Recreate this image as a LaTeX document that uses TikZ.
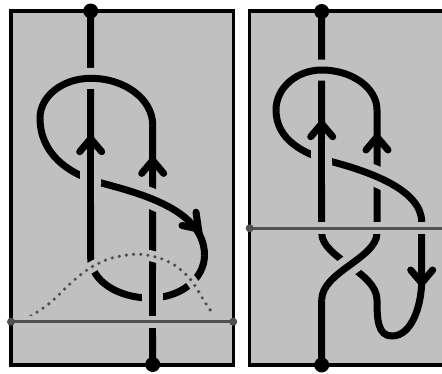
\documentclass[tikz,border=0pt]{standalone}
\usepackage{tikz}
\definecolor{boxfill}{HTML}{C0C0C0}
\definecolor{grayline}{HTML}{505050}
\tikzset{
  strand/.style={draw=black, line width=7pt, line cap=butt, line join=round},
  over/.style={strand, preaction={draw=boxfill, line width=21pt}},
  arrowhead/.style={draw=black, line width=7pt, line cap=round, line join=miter},
  panel/.style={fill=boxfill, draw=black, line width=3.3pt},
  hline/.style={draw=grayline, line width=3.3pt},
  hhalo/.style={draw=boxfill, line width=12pt},
  dotcurve/.style={draw=grayline, line width=3.6pt, line cap=round, dash pattern=on 0pt off 7.2pt},
  dothalo/.style={draw=boxfill, line width=11pt},
  enddot/.style={fill=black},
  graydot/.style={fill=grayline}
}
\begin{document}
\begin{tikzpicture}[x=1pt,y=-1pt]
\useasboundingbox (0,0) rectangle (442,373);
\clip (0,0) rectangle (442,373);
% panels
\path[panel] (11,11) rectangle (233.2,365);
\path[panel] (249.7,11) rectangle (480,365);

% ---------------- left panel ----------------
\path[strand] (152.7,364) -- (152.7,125)
  .. controls (152.7,99.2) and (124.9,78.3) .. (90.7,78.3)
  .. controls (62.7,78.3) and (40,96.1) .. (40,118)
  .. controls (40,153) and (67.2,173.9) .. (101.5,183)
  .. controls (140,193.4) and (204.5,210) .. (204.5,255)
  .. controls (204.5,279) and (180.4,298) .. (150,298)
  .. controls (117.2,298) and (90.7,280) .. (90.7,258)
  -- (90.7,11);
\path[over] (152.7,125)
  .. controls (152.7,99.2) and (124.9,78.3) .. (90.7,78.3)
  .. controls (62.7,78.3) and (40,96.1) .. (40,118);
\path[over] (90.7,150) -- (90.7,205);
\path[over] (101.5,183) .. controls (140,193.4) and (204.5,210) .. (204.5,255);
\path[over] (152.7,270) -- (152.7,335);
% dotted curve
\path[dothalo] plot[smooth] coordinates {(31,316) (50,303) (72,282) (90,268) (110,258.5) (133,254.3) (148,255.3) (163,259.3) (176,266) (188,276.5) (196,287.3) (204,300.7) (213,314)};
\path[dotcurve] plot[smooth] coordinates {(31,316) (50,303) (72,282) (90,268) (110,258.5) (133,254.3) (148,255.3) (163,259.3) (176,266) (188,276.5) (196,287.3) (204,300.7) (213,314)};
% horizontal line
\path[hhalo] (20,321.7) -- (225,321.7);
\path[hline] (11,321.7) -- (233.2,321.7);
\path[graydot] (11,321.7) circle[radius=4pt];
\path[graydot] (233.2,321.7) circle[radius=4pt];
% arrows
\path[arrowhead] (79.7,151.7) -- (90.7,138.7) -- (101.7,151.7);
\path[arrowhead] (141.7,173.4) -- (152.7,160.4) -- (163.7,173.4);
\path[arrowhead] (182,225.5) -- (198.5,229) -- (196,212.2);
% end dots
\path[enddot] (90.7,11) circle[radius=7.5pt];
\path[enddot] (152.7,364.5) circle[radius=7.5pt];

% ---------------- right panel ----------------
\path[strand] (321.7,365) -- (321.7,300)
  .. controls (321.7,272) and (377,258) .. (377,233)
  -- (377,110)
  .. controls (377,87.9) and (352.2,70) .. (321.7,70)
  .. controls (296.5,70) and (276,87.9) .. (276,110)
  .. controls (276,140) and (304,154.2) .. (333,162)
  .. controls (369.7,171.8) and (421.7,190) .. (421.7,222)
  -- (421.7,280)
  .. controls (421.7,305) and (412,336) .. (392,336)
  .. controls (378,336) and (377,320) .. (377,300)
  .. controls (377,272) and (321.7,258) .. (321.7,233)
  -- (321.7,11.7);
\path[over] (377,110)
  .. controls (377,87.9) and (352.2,70) .. (321.7,70)
  .. controls (296.5,70) and (276,87.9) .. (276,110);
\path[over] (321.7,135) -- (321.7,185);
\path[over] (333,162) .. controls (369.7,171.8) and (421.7,190) .. (421.7,222);
\path[over] (321.7,300) .. controls (321.7,272) and (377,258) .. (377,233);
% horizontal line
\path[hhalo] (262,228.3) -- (442,228.3);
\path[hline] (249.7,228.3) -- (450,228.3);
\path[graydot] (249.7,228.3) circle[radius=4pt];
% arrows
\path[arrowhead] (310.7,136.7) -- (321.7,123.7) -- (332.7,136.7);
\path[arrowhead] (366,150) -- (377,137) -- (388,150);
\path[arrowhead] (410.7,270) -- (421.7,283) -- (432.7,270);
% end dots
\path[enddot] (321.7,11.5) circle[radius=7.5pt];
\path[enddot] (321.7,365) circle[radius=7.5pt];
\end{tikzpicture}
\end{document}
